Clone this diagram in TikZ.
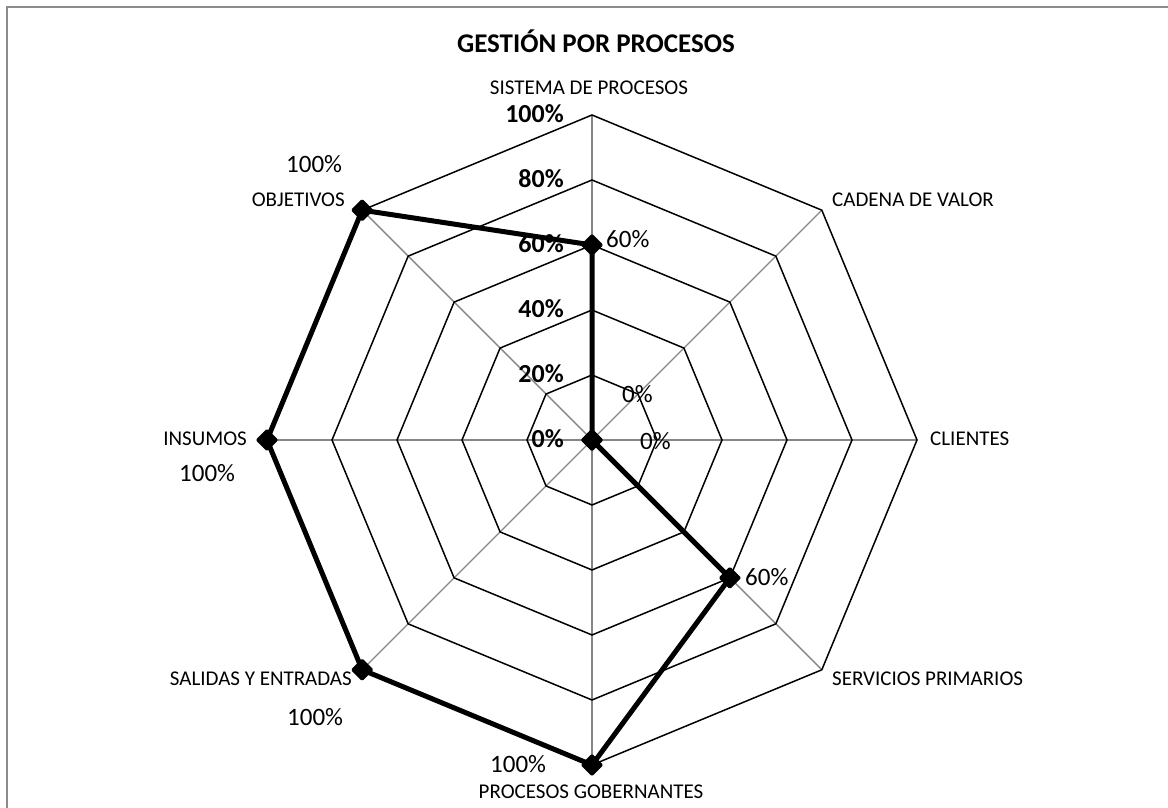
\documentclass[tikz,border=0pt]{standalone}
\usepackage{fontspec}
\setmainfont{Carlito}
\usetikzlibrary{shapes.geometric,calc}
\definecolor{spokegray}{HTML}{868686}
\definecolor{framegray}{HTML}{8C8C8C}
\begin{document}
\begin{tikzpicture}[x=1pt,y=1pt,
  spoke/.style={draw=spokegray, line width=1.4pt},
  ring/.style={draw=black, line width=1.5pt},
  series/.style={draw=black, line width=5pt, line join=round},
  marker/.style={diamond, fill=black, inner sep=0pt, minimum size=23pt, rounded corners=1.5pt},
  cat/.style={font=\fontsize{21}{25}\selectfont, inner sep=0pt},
  pct/.style={font=\fontsize{25}{29}\selectfont, inner sep=0pt, anchor=base west},
  ticklbl/.style={font=\bfseries\fontsize{26}{30}\selectfont, inner sep=0pt, anchor=base east},
]
\useasboundingbox (0,0) rectangle (1168,808);
% chart frame (top and left edges)
\draw[framegray, line width=2pt] (7,0) -- (7,801);
\draw[framegray, line width=1.5pt] (6,801) -- (1168,801);

\coordinate (C) at (592,368);
\def\R{325}

% spokes
\foreach \k in {0,...,7} {
  \coordinate (v\k) at ($(C)+({90-45*\k}:\R)$);
  \draw[spoke] (C) -- (v\k);
}
% rings at 20 % steps
\foreach \f in {0.2,0.4,0.6,0.8,1} {
  \draw[ring] ($(C)+(90:{\f*\R})$)
    \foreach \k in {1,...,7} { -- ($(C)+({90-45*\k}:{\f*\R})$) } -- cycle;
}

% scale labels
\foreach \f/\p [count=\i] in {0/0,0.2/20,0.4/40,0.6/60,0.8/80,1/100} {
  \node[ticklbl] (tick\i) at (564,{360+325*\f}) {\p\%};
}

% data series
\foreach \k/\v in {0/0.6,1/0,2/0,3/0.6,4/1,5/1,6/1,7/1} {
  \coordinate (p\k) at ($(C)+({90-45*\k}:{\v*\R})$);
}
\draw[series] (p0) -- (p1) -- (p2) -- (p3) -- (p4) -- (p5) -- (p6) -- (p7) -- cycle;
\foreach \k in {0,...,7} { \node[marker] (d\k) at (p\k) {}; }

% title
\node[font=\bfseries\fontsize{27}{32}\selectfont, inner sep=0pt, anchor=base] (title) at (596,755) {GESTIÓN POR PROCESOS};

% category labels
\node[cat, anchor=base] (c0) at (589,713) {SISTEMA DE PROCESOS};
\node[cat, anchor=base west] (c1) at (832,601) {CADENA DE VALOR};
\node[cat, anchor=base west] (c2) at (930,362) {CLIENTES};
\node[cat, anchor=base west] (c3) at (832,122) {SERVICIOS PRIMARIOS};
\node[cat, anchor=base] (c4) at (591,9) {PROCESOS GOBERNANTES};
\node[cat, anchor=base east] (c5) at (352,122) {SALIDAS Y ENTRADAS};
\node[cat, anchor=base east] (c6) at (247,362) {INSUMOS};
\node[cat, anchor=base east] (c7) at (345,601) {OBJETIVOS};

% value labels
\node[pct] (l0) at (606,560) {60\%};
\node[pct] (l1) at (622,405) {0\%};
\node[pct] (l2) at (640,358) {0\%};
\node[pct] (l3) at (745,222) {60\%};
\node[pct] (l4) at (490,35) {100\%};
\node[pct] (l5) at (287,82) {100\%};
\node[pct] (l6) at (179,326) {100\%};
\node[pct] (l7) at (286,635) {100\%};
\end{tikzpicture}
\end{document}
